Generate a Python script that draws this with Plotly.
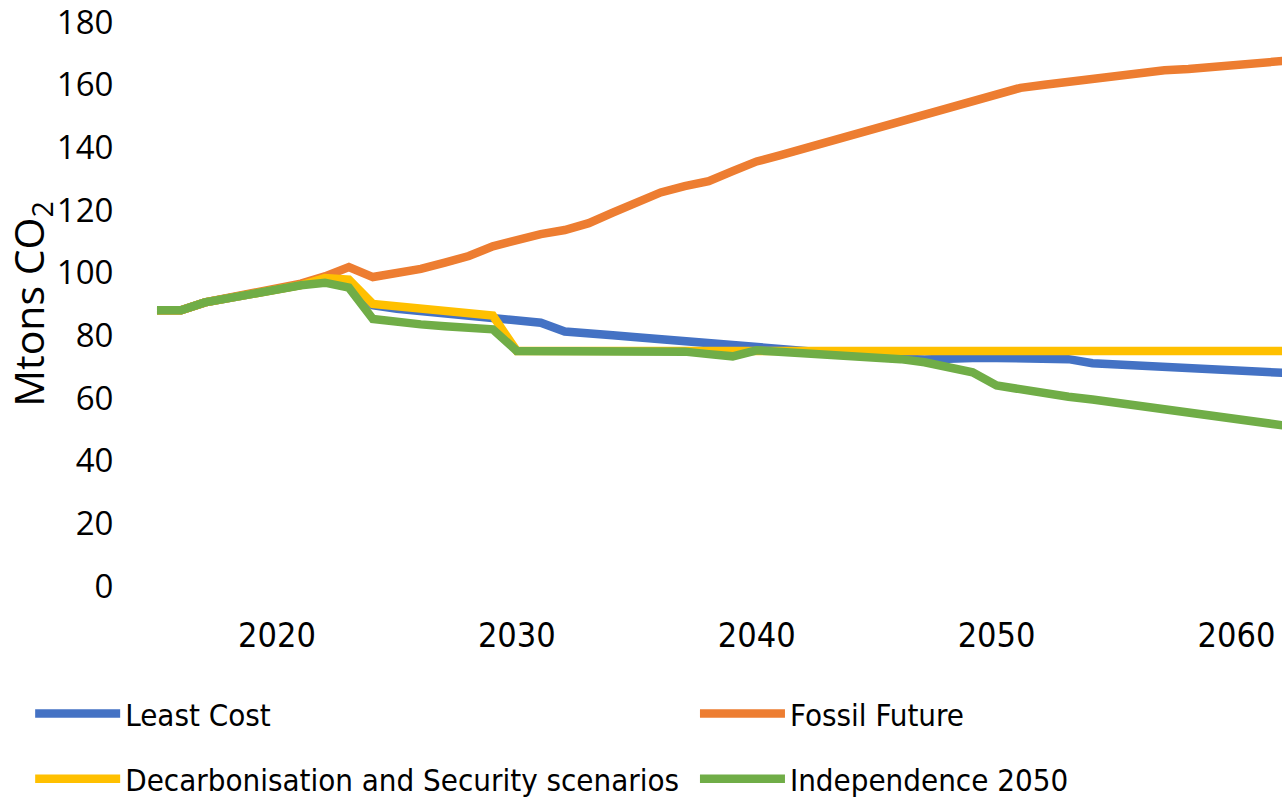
import plotly.graph_objects as go

# Emission pathways per scenario, Mtons CO2
years = [2015, 2016, 2017, 2018, 2019, 2020, 2021, 2022, 2023, 2024,
         2025, 2026, 2027, 2028, 2029, 2030, 2031, 2032, 2033, 2034,
         2035, 2036, 2037, 2038, 2039, 2040, 2041, 2042, 2043, 2044,
         2045, 2046, 2047, 2048, 2049, 2050, 2051, 2052, 2053, 2054,
         2055, 2056, 2057, 2058, 2059, 2060, 2061, 2062]

least_cost = [88, 88, 90.5, 92, 93.4, 94.7, 96, 97.5, 97.4, 89.6,
              88.5, 87.8, 87.2, 86.6, 86, 85.3, 84, 81.2, 80.3, 80,
              79.4, 78.8, 78.2, 77.5, 76.8, 75.8, 75.2, 74.6, 74, 73.5,
              72.9, 72.5, 72.3, 72.7, 72.8, 72.8, 72.8, 72.6, 72.4, 71.1,
              70.7, 70.3, 69.9, 69.7, 69.4, 68.9, 68.5, 68.0]

fossil_future = [88, 88, 90.5, 92, 93.4, 94.8, 96.5, 98.8, 101.8, 98.6,
                 99.6, 101.2, 103.2, 105.3, 108.4, 110.4, 112.3, 113.6, 115.8, 119.2,
                 122.6, 125.6, 127.6, 129.2, 132.4, 135.5, 137.5, 139.6, 142, 143.9,
                 145.8, 148.2, 150.3, 152.2, 154.5, 156.5, 159, 160, 161, 162.2,
                 162.7, 163.6, 164.6, 165, 165.5, 166.2, 167, 167.6]

decarb_security = [88, 88, 90.5, 92, 93.4, 94.7, 96, 98.3, 97.8, 90,
                   89.2, 88.5, 87.7, 87, 86.3, 75, 75, 75, 75, 75,
                   75, 75, 75, 75, 75, 75, 75, 75, 75, 75,
                   75, 75, 75, 75, 75, 75, 75, 75, 75, 75,
                   75, 75, 75, 75, 75, 75, 75, 75]

independence_2050 = [88, 88, 90.5, 92, 93.4, 94.7, 96, 96.8, 95.2, 85.2,
                     84.1, 83.5, 82.9, 82.2, 81.9, 75, 75, 75, 75, 75,
                     75, 75, 74.8, 74, 73.3, 75.2, 74.7, 74.2, 73.7, 73.3,
                     73.1, 72.4, 71.4, 70, 68.2, 64, 62.7, 61.4, 60.4, 59.5,
                     58.5, 57.6, 56.7, 55.7, 54.7, 53.8, 52.6, 51.2]

x_ticks = [2020, 2030, 2040, 2050, 2060]
y_ticks = [0, 20, 40, 60, 80, 100, 120, 140, 160, 180]

# two-column legend: left column / right column, top row / bottom row
LEFT_COL, RIGHT_COL = -0.101, 0.4837
TOP_ROW, BOTTOM_ROW = -0.2267, -0.3427

series = [
    ("Least Cost", least_cost, "#4472C4", "legend", LEFT_COL, TOP_ROW),
    ("Fossil Future", fossil_future, "#ED7D31", "legend2", RIGHT_COL, TOP_ROW),
    ("Decarbonisation and Security scenarios", decarb_security, "#FFC000", "legend3", LEFT_COL, BOTTOM_ROW),
    ("Independence 2050", independence_2050, "#70AD47", "legend4", RIGHT_COL, BOTTOM_ROW),
]

narrow = "Liberation Sans Narrow, DejaVu Sans Condensed, Arial Narrow, sans-serif"

fig = go.Figure()
legends = {}
for name, vals, color, leg, lx, ly in series:
    fig.add_trace(go.Scatter(
        x=years, y=vals, name=name, mode="lines",
        line=dict(color=color, width=8.5),
        legend=leg,
    ))
    legends[leg] = dict(
        orientation="h",
        xanchor="left", yanchor="middle",
        x=lx, y=ly,
        itemwidth=85,
        font=dict(family=narrow, size=31, color="#000000"),
        bgcolor="rgba(0,0,0,0)",
    )

fig.update_layout(
    width=1282, height=806,
    margin=dict(l=145, r=0, t=22, b=215),
    paper_bgcolor="white", plot_bgcolor="white",
    showlegend=True,
    **legends,
    xaxis=dict(
        range=[2014.5, 2061.9],
        tickvals=x_ticks,
        ticks="outside", ticklen=19, tickcolor="rgba(0,0,0,0)",
        showgrid=False, zeroline=False, showline=False,
        automargin=False,
        tickfont=dict(family=narrow, size=34, color="#000000"),
    ),
    yaxis=dict(
        range=[0, 180],
        tickvals=y_ticks,
        ticks="outside", ticklen=24, tickcolor="rgba(0,0,0,0)",
        showgrid=False, zeroline=False, showline=False,
        automargin=False,
        ticklabeloverflow="allow",
        tickfont=dict(family="Open Sans, sans-serif", size=33, color="#000000"),
        title=dict(text="Mtons CO<sub>2</sub>",
                   font=dict(family="Open Sans, sans-serif", size=41, color="#000000"),
                   standoff=10),
    ),
)

fig.write_html("out.html")
